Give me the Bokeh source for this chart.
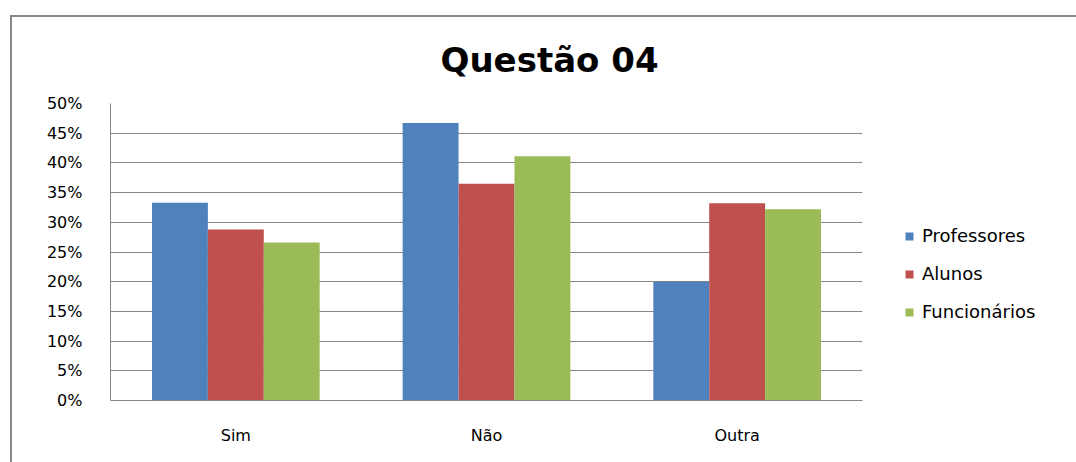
from bokeh.plotting import figure
from bokeh.models import (ColumnDataSource, FactorRange, Range1d, SingleIntervalTicker,
                          NumeralTickFormatter, Legend, LegendItem, InlineStyleSheet)
from bokeh.transform import dodge
from bokeh.embed import file_html
from bokeh.resources import INLINE

# ---- data ----
categories = ["Sim", "Não", "Outra"]
series = ["Professores", "Alunos", "Funcionários"]
professores = [0.333, 0.467, 0.200]
alunos = [0.288, 0.365, 0.332]
funcionarios = [0.266, 0.411, 0.322]
title_text = "Questão 04"

colors = ["#4F81BD", "#C0504D", "#9BBB59"]
FONT = "DejaVu Sans"
GRID = "#868686"

source = ColumnDataSource(dict(cat=categories, Professores=professores,
                               Alunos=alunos, Funcionarios=funcionarios))

frame_css = InlineStyleSheet(css="""
:host { position: relative; }
:host::after {
  content: ""; position: absolute; left: 10px; top: 15px; right: -20px; bottom: -20px;
  border-left: 2px solid #878787; border-top: 2px solid #878787;
  pointer-events: none;
}
""")

p = figure(frame_width=752, frame_height=297, output_backend="svg", toolbar_location=None,
           x_range=FactorRange(*categories, range_padding=0),
           y_range=Range1d(0, 0.5),
           min_border_left=110, min_border_right=214,
           min_border_top=103, min_border_bottom=62,
           title=title_text, stylesheets=[frame_css])
p.x_range.range_padding = 0
p.outline_line_color = None
p.background_fill_color = "white"
p.border_fill_color = "white"

p.title.align = "left"
p.title.offset = 330
p.title.standoff = 48
p.title.text_font = FONT
p.title.text_font_size = "34px"
p.title.text_font_style = "bold"
p.title.text_color = "#000000"

bw = 0.223
offsets = [-bw, 0.0, bw]
fields = ["Professores", "Alunos", "Funcionarios"]
renderers = []
for f, off, c in zip(fields, offsets, colors):
    r = p.vbar(x=dodge("cat", off, range=p.x_range), top=f, width=bw, source=source,
               fill_color=c, line_color=None)
    renderers.append(r)

legend = Legend(items=[LegendItem(label=s, renderers=[r]) for s, r in zip(series, renderers)],
                location="top_left", orientation="vertical",
                title=" ", title_text_font_size="10px", title_standoff=69,
                padding=0, margin=42, spacing=17,
                glyph_width=10, glyph_height=10, label_height=20, label_standoff=8,
                border_line_color=None, background_fill_alpha=0,
                label_text_font=FONT, label_text_font_size="18px", label_text_color="#000000")
p.add_layout(legend, "right")

# axes
p.yaxis.ticker = SingleIntervalTicker(interval=0.05)
p.yaxis.formatter = NumeralTickFormatter(format="0%")
p.yaxis.major_tick_line_color = None
p.yaxis.minor_tick_line_color = None
p.yaxis.major_tick_out = 0
p.yaxis.major_tick_in = 0
p.yaxis.axis_line_color = GRID
p.yaxis.major_label_standoff = 24
p.yaxis.major_label_text_font = FONT
p.yaxis.major_label_text_font_size = "16px"
p.yaxis.major_label_text_color = "#000000"

p.xaxis.major_tick_line_color = None
p.xaxis.minor_tick_line_color = None
p.xaxis.major_tick_out = 0
p.xaxis.major_tick_in = 0
p.xaxis.axis_line_color = GRID
p.xaxis.major_label_standoff = 25
p.xaxis.major_label_text_font = FONT
p.xaxis.major_label_text_font_size = "16px"
p.xaxis.major_label_text_color = "#000000"

p.xgrid.grid_line_color = None
p.ygrid.ticker = SingleIntervalTicker(interval=0.05)
p.ygrid.grid_line_color = GRID
p.ygrid.grid_line_width = 1

open("out.html", "w").write(file_html(p, INLINE))
